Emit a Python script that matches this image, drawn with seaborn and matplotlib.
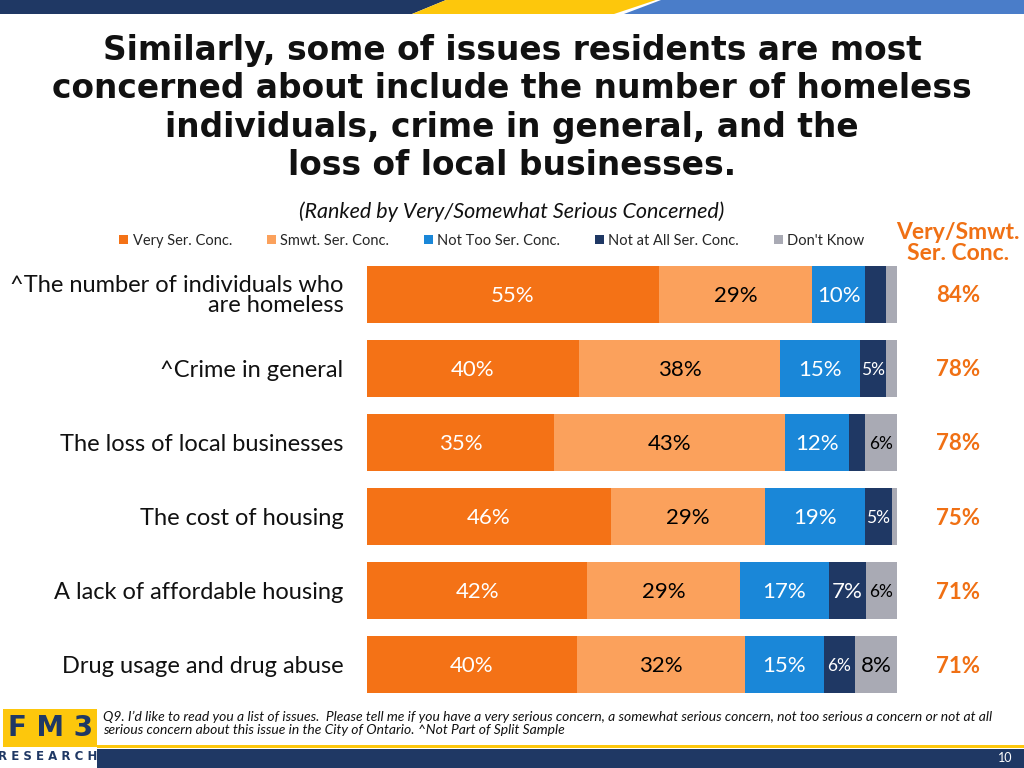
import numpy as np
import pandas as pd
import matplotlib.pyplot as plt
import matplotlib.transforms as mtransforms
from matplotlib.patches import Patch, Polygon, Rectangle
import seaborn as sns

issues = [
    "^The number of individuals who\nare homeless",
    "^Crime in general",
    "The loss of local businesses",
    "The cost of housing",
    "A lack of affordable housing",
    "Drug usage and drug abuse",
]
very = [55, 40, 35, 46, 42, 40]
smwt = [29, 38, 43, 29, 29, 32]
not_too = [10, 15, 12, 19, 17, 15]
not_at_all = [4, 5, 3, 5, 7, 6]
dont_know = [2, 2, 6, 1, 6, 8]
totals = [84, 78, 78, 75, 71, 71]

series = ["Very Ser. Conc.", "Smwt. Ser. Conc.", "Not Too Ser. Conc.",
          "Not at All Ser. Conc.", "Don't Know"]
colors = ["#F47216", "#FBA15C", "#1A87D8", "#1F3864", "#A9AAB4"]
text_colors = ["white", "black", "white", "white", "black"]

NAVY = "#1F3864"
ORANGE = "#F07014"

sns.set_theme(style="white")
plt.rcParams["font.family"] = ["Lato", "DejaVu Sans"]

df = pd.DataFrame({"issue": issues})
raw = np.array([very, smwt, not_too, not_at_all, dont_know], dtype=float)
shares = raw / raw.sum(axis=0) * 100  # 100% stacked
cum = np.cumsum(shares, axis=0)
for i in range(5):
    df[f"cum{i}"] = cum[i]

fig = plt.figure(figsize=(10.24, 7.68), dpi=100)
ax = fig.add_axes([367 / 1024, 1 - 702 / 768, 530 / 1024, 445 / 768])

# stacked bars: draw the longest cumulative layer first
for i in reversed(range(5)):
    sns.barplot(data=df, x=f"cum{i}", y="issue", color=colors[i], orient="h",
                width=0.77, saturation=1, errorbar=None, linewidth=0, ax=ax)

ax.set_xlim(0, 100)
ax.set_ylim(5.5, -0.5)
ax.set_xlabel("")
ax.set_ylabel("")
ax.set_xticks([])
sns.despine(ax=ax, left=True, bottom=True)
ax.tick_params(axis="y", length=0, pad=17)
for lab in ax.get_yticklabels():
    lab.set_fontsize(17)
    lab.set_color("#111111")
    lab.set_linespacing(0.95)
    lab.set_multialignment("right")
    lab.set_va("center_baseline")

# segment labels
for row in range(len(issues)):
    left = 0
    for i in range(5):
        v = raw[i, row]
        w = shares[i, row]
        if v >= 5:
            size = 16 if v >= 7 else 12.5
            ax.text(left + w / 2, row + 0.02, f"{int(v)}%", ha="center", va="center",
                    color=text_colors[i], fontsize=size)
        left += w

# total column
trans = mtransforms.blended_transform_factory(fig.transFigure, ax.transData)
for row, t in enumerate(totals):
    ax.text(958 / 1024, row + 0.02, f"{t}%", transform=trans, ha="center", va="center",
            color=ORANGE, fontsize=16, fontweight="bold")
fig.text(958 / 1024, 1 - 243 / 768, "Very/Smwt.\nSer. Conc.", ha="center", va="center",
         color=ORANGE, fontsize=16.5, fontweight="bold", linespacing=1.0)

# title
fig.text(512 / 1024, 1 - 108 / 768,
         "Similarly, some of issues residents are most\n"
         "concerned about include the number of homeless\n"
         "individuals, crime in general, and the\n"
         "loss of local businesses.",
         ha="center", va="center", fontsize=23.7, fontweight="bold",
         family="DejaVu Sans", color="#111111", linespacing=1.2)
fig.text(512 / 1024, 1 - 212 / 768, "(Ranked by Very/Somewhat Serious Concerned)",
         ha="center", va="center", fontsize=15.5, style="italic", color="#111111")

# legend
handles = [Patch(facecolor=c, edgecolor="none", label=s) for s, c in zip(series, colors)]
fig.legend(handles=handles, loc="center", bbox_to_anchor=(492 / 1024, 1 - 241 / 768),
           ncol=5, frameon=False, fontsize=10.5, handlelength=0.6, handleheight=0.6,
           handletextpad=0.3, columnspacing=2.4)

# top banner
fig.patches.append(Polygon([[0, 1], [446 / 1024, 1], [412 / 1024, 1 - 14 / 768], [0, 1 - 14 / 768]],
                           closed=True, transform=fig.transFigure, facecolor=NAVY, edgecolor="none"))
fig.patches.append(Polygon([[446 / 1024, 1], [656 / 1024, 1], [614 / 1024, 1 - 14 / 768],
                            [412 / 1024, 1 - 14 / 768]],
                           closed=True, transform=fig.transFigure, facecolor="#FDC70C", edgecolor="none"))
fig.patches.append(Polygon([[661 / 1024, 1], [1, 1], [1, 1 - 14 / 768], [624 / 1024, 1 - 14 / 768]],
                           closed=True, transform=fig.transFigure, facecolor="#4A7DC9", edgecolor="none"))

# footer
fig.patches.append(Rectangle((97 / 1024, 0), 927 / 1024, 19 / 768, transform=fig.transFigure,
                             facecolor=NAVY, edgecolor="none"))
fig.patches.append(Rectangle((97 / 1024, 20 / 768), 927 / 1024, 3 / 768, transform=fig.transFigure,
                             facecolor="#FDC70C", edgecolor="none"))
fig.text(1012 / 1024, 1 - 758 / 768, "10", ha="right", va="center", color="white", fontsize=9)

# logo
fig.patches.append(Rectangle((3 / 1024, 1 - 747 / 768), 94 / 1024, 38 / 768, transform=fig.transFigure,
                             facecolor="#FDC70C", edgecolor="none"))
fig.text(51 / 1024, 1 - 728 / 768, "F M 3", ha="center", va="center", color=NAVY, fontsize=20,
         fontweight="bold", family="DejaVu Sans")
fig.text(48 / 1024, 1 - 757 / 768, "R E S E A R C H", ha="center", va="center", color=NAVY,
         fontsize=8.5, fontweight="bold", family="DejaVu Sans")

fig.text(103 / 1024, 1 - 723 / 768,
         "Q9. I\u2019d like to read you a list of issues.  Please tell me if you have a very serious concern, "
         "a somewhat serious concern, not too serious a concern or not at all\n"
         "serious concern about this issue in the City of Ontario. ^Not Part of Split Sample",
         ha="left", va="center", fontsize=10, style="italic", color="#111111", linespacing=1.1)

fig.savefig("out.png", dpi=100)
